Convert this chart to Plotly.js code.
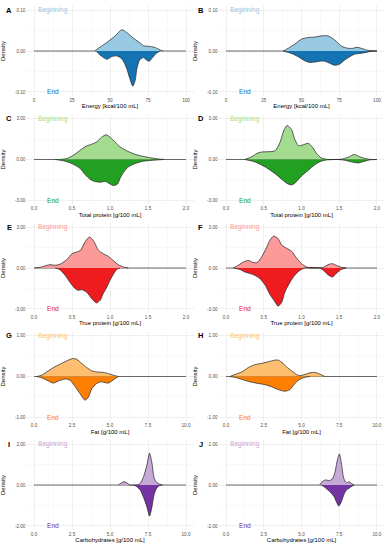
<!DOCTYPE html>
<html><head><meta charset="utf-8">
<script src="https://cdn.plot.ly/plotly-3.0.1.min.js"></script>
<style>html,body{margin:0;padding:0;background:#fff}#chart{width:390px;height:550px}</style>
</head><body><div id="chart"></div>
<script>
// ---- tick values / labels ----
const energyTicks = [0, 25, 50, 75, 100];
const energyTickText = ['0', '25', '50', '75', '100'];
const proteinTicks = [0, 0.5, 1, 1.5, 2];
const proteinTickText = ['0.0', '0.5', '1.0', '1.5', '2.0'];
const gramTicks = [0, 2.5, 5, 7.5, 10];
const gramTickText = ['0.0', '2.5', '5.0', '7.5', '10.0'];

const energyYTicks = [-0.1, 0, 0.1];
const energyYText = ['-0.10', '0.00', '0.10'];
const proteinYTicks = [-3, 0, 3];
const proteinYText = ['-3.00', '0.00', '3.00'];
const fatYTicks = [-1, 0, 1];
const fatYText = ['-1.00', '0.00', '1.00'];
const carbYTicks = [-2, 0, 2];
const carbYText = ['-2.00', '0.00', '2.00'];

const panelLetters = ['A','B','C','D','E','F','G','H','I','J'];
const xTitles = ['Energy [kcal/100 mL]','Energy [kcal/100 mL]','Total protein [g/100 mL]','Total protein [g/100 mL]',
  'True protein [g/100 mL]','True protein [g/100 mL]','Fat [g/100 mL]','Fat [g/100 mL]',
  'Carbohydrates [g/100 mL]','Carbohydrates [g/100 mL]'];
const groupLabels = ['Beginning', 'End'];

// ---- density curves (End drawn mirrored, negative) ----
const A_begX = [40, 41.3, 48, 53.4, 57.8, 61, 65.5, 70, 72, 76.5, 80, 83, 85];
const A_begY = [0, 0.004, 0.021, 0.037, 0.052, 0.045, 0.031, 0.019, 0.013, 0.011, 0.008, 0.0025, 0];
const A_endX = [41, 43.5, 47, 48.4, 51, 54.5, 58, 61, 63, 65, 66.6, 67.7, 69.5, 72, 74, 75.8, 77.6, 80, 82, 83];
const A_endY = [0, -0.01, -0.019, -0.02, -0.014, -0.012, -0.02, -0.043, -0.067, -0.086, -0.071, -0.043, -0.022, -0.016, -0.022, -0.025, -0.018, -0.007, -0.002, 0];

const B_begX = [37.9, 41.2, 45.6, 50, 54.4, 58.8, 63.2, 67.6, 72, 76.4, 80.8, 84, 86.8, 89.6, 93, 96, 100];
const B_begY = [0, 0.0066, 0.017, 0.029, 0.033, 0.034, 0.037, 0.037, 0.027, 0.012, 0.0066, 0.0066, 0.009, 0.0066, 0.0025, 0.0008, 0];
const B_endX = [37.9, 43.4, 47.8, 52.2, 55.5, 58.8, 62, 65.4, 68.7, 72, 75.3, 78.6, 82, 85, 88.5, 91.9, 95, 98.5, 100];
const B_endY = [0, -0.006, -0.014, -0.024, -0.028, -0.027, -0.025, -0.025, -0.030, -0.035, -0.032, -0.022, -0.014, -0.008, -0.006, -0.004, -0.0016, -0.0003, 0];

const C_begX = [0.34, 0.43, 0.52, 0.61, 0.69, 0.76, 0.83, 0.89, 0.95, 1.0, 1.07, 1.13, 1.22, 1.31, 1.40, 1.51, 1.62, 1.71];
const C_begY = [0, 0.07, 0.32, 0.69, 0.99, 1.12, 1.31, 1.64, 1.81, 1.64, 1.26, 0.94, 0.64, 0.42, 0.27, 0.15, 0.05, 0];
const C_endX = [0.28, 0.39, 0.5, 0.61, 0.67, 0.74, 0.8, 0.87, 0.94, 1.0, 1.05, 1.10, 1.13, 1.18, 1.24, 1.33, 1.44, 1.57, 1.71];
const C_endY = [0, -0.1, -0.3, -0.67, -1.09, -1.46, -1.61, -1.66, -1.61, -1.79, -1.91, -1.79, -1.41, -0.92, -0.55, -0.3, -0.12, -0.05, 0];

const D_begX = [0.25, 0.34, 0.41, 0.47, 0.56, 0.65, 0.71, 0.77, 0.81, 0.87, 0.91, 0.96, 1.02, 1.09, 1.14, 1.2, 1.26, 1.35, 1.44, 1.53, 1.62, 1.70, 1.77, 1.86, 1.93];
const D_begY = [0, 0.2, 0.45, 0.55, 0.57, 0.64, 1.19, 2.18, 2.5, 2.18, 1.49, 1.02, 1.07, 1.19, 0.94, 0.45, 0.12, 0, 0, 0.02, 0.17, 0.37, 0.2, 0.05, 0];
const D_endX = [0.25, 0.38, 0.52, 0.65, 0.74, 0.82, 0.87, 0.91, 1.0, 1.09, 1.18, 1.26, 1.35, 1.48, 1.57, 1.66, 1.75, 1.81, 1.9, 2.0];
const D_endY = [0, -0.17, -0.55, -1.04, -1.46, -1.79, -1.86, -1.74, -1.21, -0.79, -0.37, -0.12, -0.02, 0, -0.05, -0.17, -0.25, -0.17, -0.03, 0];

const E_begX = [0.01, 0.08, 0.17, 0.21, 0.28, 0.34, 0.43, 0.5, 0.56, 0.61, 0.67, 0.73, 0.78, 0.85, 0.91, 0.98, 1.05, 1.11, 1.18, 1.24];
const E_begY = [0, 0.05, 0.2, 0.24, 0.2, 0.27, 0.61, 1.05, 1.17, 1.29, 1.9, 2.27, 2.02, 1.29, 1.05, 0.85, 0.51, 0.24, 0.07, 0];
const E_endX = [0.28, 0.34, 0.41, 0.47, 0.54, 0.58, 0.63, 0.69, 0.76, 0.82, 0.87, 0.91, 0.96, 1.0, 1.05, 1.09, 1.13];
const E_endY = [0, -0.12, -0.54, -1.02, -1.51, -1.63, -1.59, -1.76, -2.24, -2.56, -2.37, -1.88, -1.39, -0.9, -0.41, -0.1, 0];

const F_begX = [0.1, 0.16, 0.23, 0.3, 0.34, 0.41, 0.47, 0.54, 0.58, 0.63, 0.69, 0.74, 0.8, 0.87, 0.93, 1.0, 1.07, 1.11, 1.22, 1.29, 1.35, 1.41, 1.46, 1.53, 1.59];
const F_begY = [0, 0.2, 0.44, 0.56, 0.44, 0.39, 0.8, 1.54, 2.02, 2.34, 2.15, 1.66, 1.46, 1.22, 0.76, 0.32, 0.07, 0, 0, 0.05, 0.24, 0.32, 0.2, 0.05, 0];
const F_endX = [0.1, 0.19, 0.25, 0.32, 0.38, 0.45, 0.52, 0.58, 0.65, 0.69, 0.74, 0.78, 0.85, 0.91, 0.98, 1.04, 1.24, 1.29, 1.35, 1.41, 1.46, 1.53, 1.59];
const F_endY = [0, -0.12, -0.29, -0.41, -0.54, -0.78, -1.27, -1.93, -2.49, -2.8, -2.49, -1.76, -1.02, -0.54, -0.17, 0, 0, -0.17, -0.49, -0.66, -0.41, -0.1, 0];

const G_begX = [0.18, 0.5, 0.95, 1.38, 1.82, 2.26, 2.55, 2.81, 3.14, 3.47, 3.8, 4.13, 4.57, 4.9, 5.23, 5.56];
const G_begY = [0, 0.03, 0.14, 0.24, 0.32, 0.4, 0.44, 0.42, 0.32, 0.22, 0.14, 0.11, 0.1, 0.07, 0.03, 0];
const G_endX = [0.18, 0.5, 0.95, 1.27, 1.6, 2.04, 2.37, 2.7, 3.03, 3.36, 3.58, 3.8, 4.13, 4.46, 4.68, 4.9, 5.12, 5.34, 5.56];
const G_endY = [0, -0.03, -0.11, -0.16, -0.11, -0.06, -0.09, -0.24, -0.42, -0.58, -0.5, -0.3, -0.17, -0.13, -0.15, -0.16, -0.11, -0.05, 0];

const H_begX = [0.26, 0.6, 1.04, 1.48, 1.92, 2.36, 2.8, 3.24, 3.46, 3.72, 4.0, 4.34, 4.67, 4.89, 5.22, 5.55, 5.88, 6.21, 6.54];
const H_begY = [0, 0.05, 0.11, 0.22, 0.29, 0.32, 0.36, 0.4, 0.4, 0.34, 0.24, 0.14, 0.05, 0.02, 0.05, 0.09, 0.1, 0.06, 0];
const H_endX = [0.26, 0.6, 1.04, 1.59, 2.14, 2.58, 3.02, 3.46, 3.9, 4.23, 4.56, 4.89, 5.22, 5.55];
const H_endY = [0, -0.02, -0.07, -0.13, -0.17, -0.2, -0.25, -0.32, -0.36, -0.32, -0.17, -0.07, -0.02, 0];

const I_begX = [5.56, 5.71, 5.93, 6.11, 6.29, 6.81, 6.99, 7.21, 7.43, 7.6, 7.76, 7.91, 8.09, 8.31, 8.46];
const I_begY = [0, 0.08, 0.16, 0.11, 0, 0, 0.08, 0.41, 0.98, 1.56, 1.07, 0.33, 0.11, 0.03, 0];
const I_endX = [6.55, 6.77, 6.99, 7.21, 7.43, 7.6, 7.76, 7.91, 8.09, 8.26, 8.42];
const I_endY = [0, -0.08, -0.25, -0.61, -1.07, -1.52, -1.07, -0.44, -0.13, -0.03, 0];

const J_begX = [6.21, 6.37, 6.59, 6.81, 7.03, 7.2, 7.38, 7.51, 7.64, 7.8, 7.97, 8.15, 8.3, 8.48];
const J_begY = [0, 0.16, 0.25, 0.21, 0.28, 0.57, 1.23, 1.52, 1.07, 0.33, 0.11, 0.16, 0.08, 0];
const J_endX = [6.32, 6.54, 6.76, 6.98, 7.16, 7.31, 7.47, 7.64, 7.8, 7.97, 8.15, 8.3, 8.48];
const J_endY = [0, -0.11, -0.25, -0.41, -0.57, -0.82, -1.03, -0.82, -0.49, -0.25, -0.16, -0.08, 0];

// ---- colours ----
const lightColors = ['#98c9e3', '#a3dc8e', '#fb9a99', '#fdbf6f', '#c6a9d6'];
const darkColors  = ['#1373b3', '#22a022', '#ee1c1f', '#ff7f00', '#7433a3'];

// ---- assemble ----
const curves = [
  [A_begX, A_begY, A_endX, A_endY], [B_begX, B_begY, B_endX, B_endY],
  [C_begX, C_begY, C_endX, C_endY], [D_begX, D_begY, D_endX, D_endY],
  [E_begX, E_begY, E_endX, E_endY], [F_begX, F_begY, F_endX, F_endY],
  [G_begX, G_begY, G_endX, G_endY], [H_begX, H_begY, H_endX, H_endY],
  [I_begX, I_begY, I_endX, I_endY], [J_begX, J_begY, J_endX, J_endY]
];
const rowX = [
  [energyTicks, energyTickText], [proteinTicks, proteinTickText], [proteinTicks, proteinTickText],
  [gramTicks, gramTickText], [gramTicks, gramTickText]
];
const rowY = [
  [energyYTicks, energyYText], [proteinYTicks, proteinYText], [proteinYTicks, proteinYText],
  [fatYTicks, fatYText], [carbYTicks, carbYText]
];

const W = 390, H = 550;
const colPx = [[26.4, 193.6], [218.5, 384.5]];
const rowCenter0 = 51, rowStep = 108.5, halfH = 45;
const FONT = 'Liberation Sans, Arial, sans-serif';

const traces = [];
const layout = {
  width: W, height: H, margin: {l: 0, r: 0, t: 0, b: 0},
  paper_bgcolor: '#fff', plot_bgcolor: '#fff', showlegend: false,
  font: {family: FONT, size: 6, color: '#000'},
  annotations: []
};

for (let i = 0; i < 10; i++) {
  const row = Math.floor(i / 2), col = i % 2;
  const sfx = i === 0 ? '' : String(i + 1);
  const xa = 'x' + sfx, ya = 'y' + sfx;
  const [bx, by, ex, ey] = curves[i];
  const [xt, xtt] = rowX[row];
  const [yt, ytt] = rowY[row];
  const xMin = xt[0], xMax = xt[xt.length - 1], yMax = yt[yt.length - 1];

  const lineStyle = {color: 'rgba(45,45,45,0.9)', width: 0.85, shape: 'spline', smoothing: 0.7};
  // baseline (density 0 across the x range)
  traces.push({type: 'scatter', mode: 'lines', x: [xMin, xMax], y: [0, 0], xaxis: xa, yaxis: ya,
    line: {color: 'rgba(60,60,60,0.9)', width: 0.85}, hoverinfo: 'skip'});
  traces.push({type: 'scatter', mode: 'lines', x: bx, y: by, xaxis: xa, yaxis: ya,
    fill: 'tozeroy', fillcolor: lightColors[row], line: lineStyle, hoverinfo: 'skip'});
  traces.push({type: 'scatter', mode: 'lines', x: ex, y: ey, xaxis: xa, yaxis: ya,
    fill: 'tozeroy', fillcolor: darkColors[row], line: lineStyle, hoverinfo: 'skip'});

  const xPad = (xMax - xMin) * 0.05, yPad = yMax * 0.1;
  const c = rowCenter0 + row * rowStep;
  const [pl, pr] = colPx[col];

  layout['xaxis' + sfx] = {
    domain: [pl / W, pr / W], anchor: ya, range: [xMin - xPad, xMax + xPad],
    tickmode: 'array', tickvals: xt, ticktext: xtt,
    showgrid: true, gridcolor: '#ebebeb', gridwidth: 0.7,
    minor: {showgrid: true, tickmode: 'linear', tick0: 0, dtick: (xt[1] - xt[0]) / 2, gridcolor: '#f4f4f4', gridwidth: 0.5},
    zeroline: false, showline: false, ticks: '',
    tickfont: {size: 4.6, color: '#4d4d4d'},
    title: {text: xTitles[i], font: {size: 6, color: '#000'}, standoff: 2},
    fixedrange: true
  };
  layout['yaxis' + sfx] = {
    domain: [1 - (c + halfH) / H, 1 - (c - halfH) / H], anchor: xa, range: [-yMax - yPad, yMax + yPad],
    tickmode: 'array', tickvals: yt, ticktext: ytt,
    showgrid: true, gridcolor: '#ebebeb', gridwidth: 0.7,
    minor: {showgrid: true, tickmode: 'linear', tick0: 0, dtick: yMax / 2, gridcolor: '#f4f4f4', gridwidth: 0.5},
    zeroline: false, showline: false, ticks: '',
    tickfont: {size: 4.6, color: '#4d4d4d'},
    title: {text: 'Density', font: {size: 6, color: '#000'}},
    fixedrange: true
  };

  // group labels
  layout.annotations.push({xref: xa, yref: ya, x: xMin + (xMax - xMin) * 0.125, y: yMax, text: groupLabels[0],
    showarrow: false, font: {size: 6.6, color: lightColors[row]}});
  layout.annotations.push({xref: xa, yref: ya, x: xMin + (xMax - xMin) * 0.125, y: -yMax, text: groupLabels[1],
    showarrow: false, font: {size: 6.6, color: darkColors[row]}});
  // panel letter
  layout.annotations.push({xref: 'paper', yref: 'paper', x: (col === 0 ? 9 : 201) / W, y: 1 - (c - 41) / H,
    text: '<b>' + panelLetters[i] + '</b>', showarrow: false, xanchor: 'center', yanchor: 'middle',
    font: {size: 7.5, color: '#000'}});
}

Plotly.newPlot('chart', traces, layout, {staticPlot: true, displayModeBar: false});
</script>
</body></html>
